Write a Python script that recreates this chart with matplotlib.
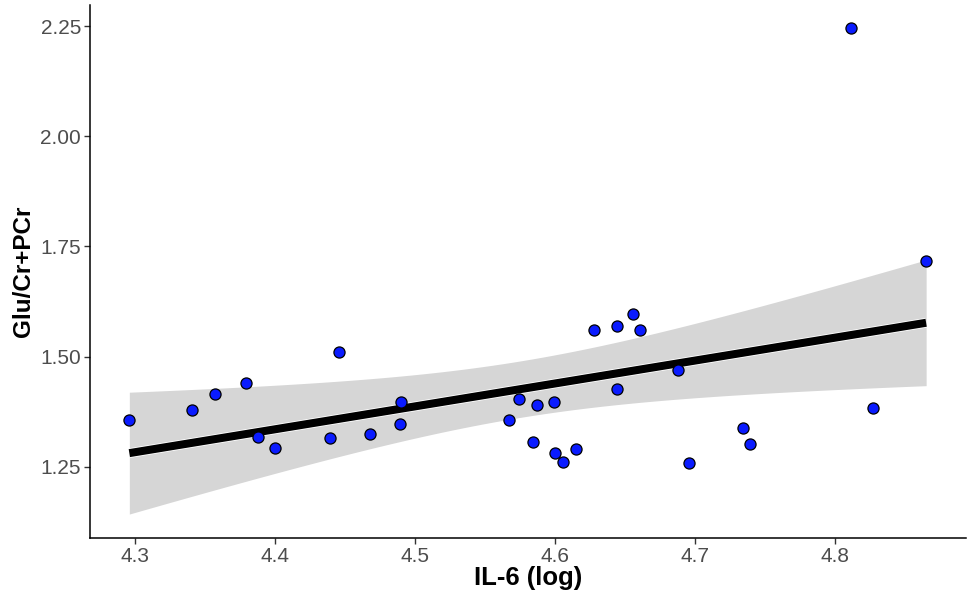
"""Glu/Cr+PCr vs IL-6 (log) scatter with linear fit and 95% CI band."""
import numpy as np
import matplotlib
matplotlib.use('Agg')
import matplotlib.pyplot as plt
import matplotlib.patheffects as pe

# Points.
il6_log = [
    4.296, 4.341, 4.357, 4.379, 4.388, 4.400, 4.439, 4.446, 4.468, 4.490,
    4.489, 4.567, 4.574, 4.584, 4.587, 4.599, 4.600, 4.606, 4.615, 4.628,
    4.644, 4.644, 4.656, 4.661, 4.688, 4.696, 4.734, 4.739, 4.811, 4.827,
    4.865,
]
glu_ratio = [
    1.356, 1.379, 1.415, 1.439, 1.318, 1.292, 1.314, 1.510, 1.324, 1.396,
    1.346, 1.355, 1.404, 1.306, 1.391, 1.397, 1.280, 1.261, 1.291, 1.561,
    1.569, 1.426, 1.596, 1.561, 1.469, 1.258, 1.337, 1.301, 2.246, 1.384,
    1.717,
]
x_ticks = [4.3, 4.4, 4.5, 4.6, 4.7, 4.8]
y_ticks = [1.25, 1.50, 1.75, 2.00, 2.25]


def lm_band(x, y, n=80):
    """Least-squares line plus 95% confidence band, as geom_smooth(method='lm')."""
    x = np.asarray(x)
    y = np.asarray(y)
    slope, icpt = np.polyfit(x, y, 1)
    resid = y - (icpt + slope * x)
    dof = len(x) - 2
    s = np.sqrt(np.sum(resid ** 2) / dof)
    xg = np.linspace(x.min(), x.max(), n)
    se = s * np.sqrt(1 / len(x) + (xg - x.mean()) ** 2 / np.sum((x - x.mean()) ** 2))
    t = 2.045  # t(0.975, 29)
    fit = icpt + slope * xg
    return xg, fit, fit - t * se, fit + t * se


plt.rcParams['font.family'] = ['Liberation Sans', 'DejaVu Sans']

fig = plt.figure(figsize=(9.76, 6.0), dpi=100)
ax = fig.add_axes([0.0922, 0.1033, 0.8976, 0.8889])

xg, fit, lo, hi = lm_band(il6_log, glu_ratio)
ax.fill_between(xg, lo, hi, color='#d6d6d6', linewidth=0, zorder=1)
ax.plot(xg, fit, color='black', linewidth=5.8, solid_capstyle='butt', zorder=2,
        path_effects=[pe.Stroke(linewidth=7.0, foreground='white'), pe.Normal()])
ax.scatter(il6_log, glu_ratio, s=64, facecolor='#0a1bff', edgecolor='black',
           linewidth=0.9, zorder=3)

ax.set_xlim(4.2679, 4.8935)
ax.set_ylim(1.088, 2.299)
ax.set_xticks(x_ticks)
ax.set_xticklabels([f'{v:.1f}' for v in x_ticks])
ax.set_yticks(y_ticks)
ax.set_yticklabels([f'{v:.2f}' for v in y_ticks])

for side in ('top', 'right'):
    ax.spines[side].set_visible(False)
for side in ('left', 'bottom'):
    ax.spines[side].set_linewidth(1.1)
    ax.spines[side].set_color('black')

ax.tick_params(axis='both', direction='out', length=4, width=1.0,
               color='#333333', labelsize=15, labelcolor='#4d4d4d', pad=2.5)

ax.set_xlabel('IL-6 (log)', fontsize=18.5, fontweight='bold', labelpad=0)
ax.set_ylabel('Glu/Cr+PCr', fontsize=17.5, fontweight='bold', labelpad=4)

fig.savefig('out.png', dpi=100, facecolor='white')
